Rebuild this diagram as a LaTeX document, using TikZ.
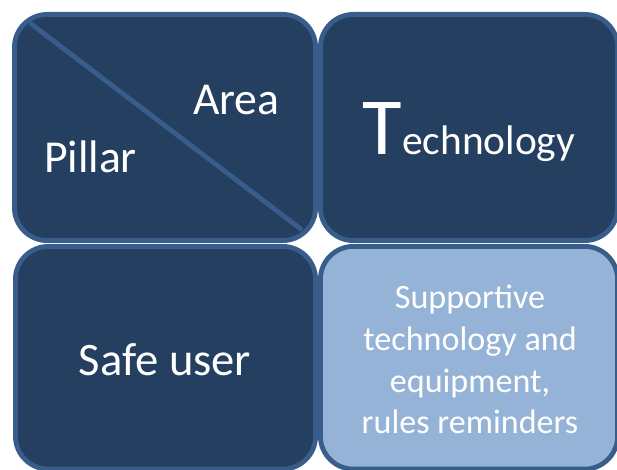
\documentclass[tikz,border=0pt]{standalone}
\usepackage{fontspec}
\setmainfont{Carlito}
\definecolor{boxdark}{HTML}{243F60}
\definecolor{boxline}{HTML}{385D8A}
\definecolor{boxlight}{HTML}{95B3D7}
\tikzset{
  cell/.style={rectangle, rounded corners=33pt, line width=4.8pt, draw=boxline, fill=boxdark, inner sep=0pt},
  lightcell/.style={cell, fill=boxlight},
  label/.style={text=white, inner sep=0pt, outer sep=0pt},
  divider/.style={line width=4.8pt, draw=boxline}
}
\begin{document}
\begin{tikzpicture}[x=1pt,y=-1pt]
\useasboundingbox (0,0) rectangle (617,470);
\node[cell, minimum width=301.2pt, minimum height=226.2pt] (b1) at (165,127.5) {};
\node[cell, minimum width=297.2pt, minimum height=226.2pt] (b2) at (469,127.5) {};
\node[cell, minimum width=300.2pt, minimum height=222.7pt] (b3) at (165.5,357.75) {};
\node[lightcell, minimum width=297.2pt, minimum height=222.7pt] (b4) at (469,357.75) {};
\coordinate (d1) at (30,23);
\coordinate (d2) at (302,230);
\draw[divider] (d1) -- (d2);
\node[label, anchor=base west, font=\fontsize{45.7}{55}\selectfont] (area) at (193,115) {Area};
\node[label, anchor=base west, font=\fontsize{45.7}{55}\selectfont] (pillar) at (44,173) {Pillar};
\node[label, anchor=base] (tech) at (469,155) {{\fontsize{81}{90}\selectfont T}{\fontsize{41.4}{50}\selectfont echnology}};
\node[label, anchor=base, font=\fontsize{46.6}{56}\selectfont] (safe) at (165,375) {Safe user};
\node[label, anchor=base, font=\fontsize{34.1}{41.7}\selectfont] (l1) at (470,308) {Supportive};
\node[label, anchor=base, font=\fontsize{34.1}{41.7}\selectfont] (l2) at (470,350) {technology and};
\node[label, anchor=base, font=\fontsize{34.1}{41.7}\selectfont] (l3) at (470,392) {equipment,};
\node[label, anchor=base, font=\fontsize{34.1}{41.7}\selectfont] (l4) at (470,433) {rules reminders};
\end{tikzpicture}
\end{document}
